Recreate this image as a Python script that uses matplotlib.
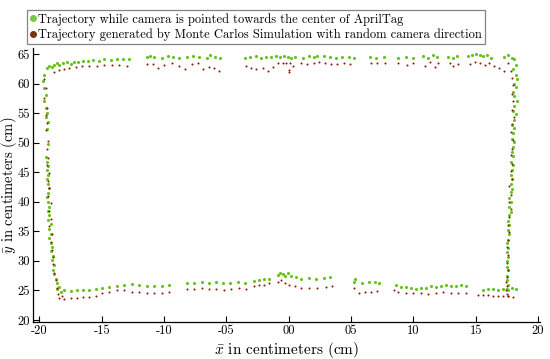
import matplotlib
matplotlib.use("Agg")
import matplotlib.pyplot as plt
from matplotlib.lines import Line2D

plt.rcParams['font.family'] = ['cmr10', 'DejaVu Serif']
plt.rcParams['mathtext.fontset'] = 'cm'
plt.rcParams['axes.unicode_minus'] = False

# ---------------- data ----------------
legend_labels = [
    "Trajectory while camera is pointed towards the center of AprilTag",
    "Trajectory generated by Monte Carlos Simulation with random camera direction",
]
x_ticks = [-20, -15, -10, -5, 0, 5, 10, 15, 20]
x_tick_labels = ["-20", "-15", "-10", "-05", "00", "05", "10", "15", "20"]
y_ticks = [20, 25, 30, 35, 40, 45, 50, 55, 60, 65]
y_tick_labels = ["20", "25", "30", "35", "40", "45", "50", "55", "60", "65"]

# green: camera pointed towards AprilTag
green_top_x = [-19.4, -19.2, -19.0, -18.8, -18.6, -18.4, -18.1, -17.8, -17.5, -17.2, -16.9, -16.5, -16.1, -15.7,
               -15.2, -14.8, -14.3, -13.8, -13.3, -12.8,
               -11.4, -11.1, -10.8, -10.2, -9.7, -9.3, -8.8, -8.2, -7.7, -7.2, -6.6, -6.3, -5.9, -5.5,
               -3.5, -3.1, -2.6, -2.2, -1.8, -1.4, -1.0, -0.7, -0.4, -0.1, 0.2, 0.5,
               1.1, 1.6, 2.0, 2.3, 2.8, 3.3, 3.8, 4.3, 4.8, 5.2,
               6.5, 7.0, 7.6, 8.8, 9.4, 10.0, 10.8, 11.2, 11.6, 11.9, 12.8, 13.2, 13.5,
               14.4, 14.7, 15.0, 15.3, 15.6, 15.9, 16.2, 17.3, 17.6, 17.9]
green_top_y = [62.6, 63.0, 62.8, 63.2, 63.4, 63.1, 63.5, 63.6, 63.3, 63.7, 63.6, 63.8, 63.9, 64.0,
               63.9, 64.1, 64.0, 64.2, 64.1, 64.1,
               64.5, 64.6, 64.5, 64.4, 64.6, 64.5, 64.4, 64.5, 64.7, 64.5, 64.4, 64.8, 64.5, 64.4,
               64.4, 64.5, 64.6, 64.4, 64.5, 64.5, 64.6, 64.5, 64.6, 64.5, 64.4, 64.5,
               64.4, 64.6, 64.5, 64.7, 64.6, 64.5, 64.4, 64.5, 64.5, 64.4,
               64.5, 64.4, 64.5, 64.4, 64.5, 64.4, 64.6, 64.3, 64.8, 64.5, 64.5, 64.4, 64.6,
               64.7, 64.9, 65.0, 64.8, 64.6, 64.9, 64.4, 64.5, 64.8, 64.4]

green_right_x = [18.1, 18.2, 18.0, 18.2, 18.3, 18.1, 18.2, 18.0, 18.1, 18.3, 18.1, 18.0, 18.2, 18.1,
                 17.9, 18.1, 18.0, 17.9, 18.1, 18.0, 17.9, 18.0, 17.8, 18.0, 17.9, 17.8, 17.9, 17.8,
                 17.9, 17.8, 17.7, 17.8, 17.7, 17.8, 17.7, 17.6, 17.7, 17.6, 17.7, 17.6, 17.5, 17.6,
                 17.5, 17.6, 17.5, 17.5, 17.6, 17.5, 17.5, 17.6, 17.5]
green_right_y = [64.1, 63.2, 62.5, 61.5, 60.8, 60.0, 59.4, 58.5, 57.9, 57.1, 56.2, 55.4, 54.8, 53.9,
                 53.0, 52.5, 51.6, 50.7, 50.1, 49.3, 48.4, 47.8, 46.8, 46.2, 45.3, 44.5, 43.9, 43.0,
                 42.2, 41.6, 40.6, 39.9, 39.2, 38.3, 37.7, 36.8, 36.1, 35.2, 34.6, 33.6, 33.0, 32.1,
                 31.5, 30.6, 29.9, 29.0, 28.4, 27.4, 26.8, 25.9, 25.3]

green_bottom_x = [18.2, 17.9, 17.6, 17.2, 16.8, 16.4, 16.0, 15.6,
                  14.2, 13.8, 13.4, 13.0, 12.6, 12.2, 11.8, 11.4, 11.0, 10.6, 10.2, 9.8, 9.4, 9.0, 8.6,
                  5.2, 5.3, 5.9, 6.4, 6.9, 7.2,
                  0.6, 1.0, 1.6, 2.2, 2.8, 3.3,
                  -0.9, -0.7, -0.5, -0.3, -0.1, 0.2,
                  -2.8, -2.4, -2.0, -1.6,
                  -8.2, -7.6, -7.0, -6.4, -5.8, -5.3, -4.7, -4.1, -3.5,
                  -15.0, -14.4, -13.8, -13.2, -12.6, -12.0, -11.4, -10.8, -10.2, -9.6,
                  -17.5, -17.0, -16.5, -16.0, -15.5,
                  -18.6, -18.3, -18.0]
green_bottom_y = [25.3, 25.5, 25.0, 25.2, 25.1, 25.3, 25.2, 25.1,
                  25.8, 25.9, 25.7, 25.8, 26.0, 25.8, 25.6, 25.7, 25.5, 25.4, 25.3, 25.5, 25.6, 25.6, 26.0,
                  26.4, 26.9, 26.3, 26.4, 26.5, 26.3,
                  27.3, 27.0, 27.1, 27.0, 27.1, 27.2,
                  27.6, 28.0, 27.8, 27.5, 27.9, 27.4,
                  26.6, 26.8, 26.9, 27.0,
                  26.2, 26.3, 26.4, 26.3, 26.5, 26.2, 26.3, 26.4, 26.3,
                  25.5, 25.6, 25.8, 26.0, 26.1, 25.9, 25.8, 25.7, 25.8, 25.9,
                  24.9, 25.0, 25.1, 25.0, 25.2,
                  25.2, 24.8, 25.0]

green_left_x = [-18.4, -18.6, -18.7, -18.8, -18.9, -18.8, -19.0, -18.9, -19.1, -19.0, -19.1, -19.2,
                -19.1, -19.2, -19.1, -19.3, -19.2, -19.3, -19.2, -19.3, -19.4, -19.3, -19.2, -19.3,
                -19.4, -19.3, -19.4, -19.3, -19.4, -19.5, -19.3, -19.4, -19.3, -19.5, -19.4, -19.5,
                -19.6, -19.5, -19.6, -19.7, -19.6]
green_left_y = [25.6, 26.3, 27.0, 27.8, 28.5, 29.3, 30.1, 30.8, 31.6, 32.4, 33.1, 33.9,
                34.6, 35.4, 36.2, 36.9, 37.7, 38.5, 39.2, 40.0, 40.8, 41.5, 42.3, 43.0,
                43.8, 44.5, 45.3, 46.1, 46.8, 47.6, 49.7, 52.3, 53.5, 54.3, 55.1, 55.9,
                57.0, 58.0, 59.3, 60.4, 61.5]

# red: Monte Carlo simulation
red_top_x = [-18.8, -18.4, -18.0, -17.6, -17.1, -16.6, -16.0, -15.4, -14.8, -14.2, -13.6, -13.0,
             -11.4, -10.9, -10.5, -10.0, -9.4, -8.8, -8.3, -7.8, -7.3, -6.9, -6.4, -6.0, -5.6,
             -3.4, -3.0, -2.6, -2.1, -1.7, -1.3, -0.9, -0.5, -0.2, 0.1, 0.3, 0.0, 0.0,
             1.0, 1.5, 2.0, 2.4, 2.9, 3.4, 3.9, 4.4, 4.9,
             6.6, 7.1, 7.7, 8.8, 9.5, 10.0, 10.9, 11.3, 11.7, 12.0, 12.9, 13.2, 13.6,
             14.5, 14.9, 15.3, 15.7, 16.1, 16.5, 16.9, 17.3]
red_top_y = [62.0, 62.3, 62.5, 62.6, 62.8, 62.9, 63.0, 63.0, 63.1, 63.2, 63.1, 63.0,
             63.3, 63.3, 62.6, 63.2, 63.5, 63.0, 62.5, 63.3, 63.5, 62.4, 62.8, 62.6, 62.1,
             62.9, 62.7, 62.4, 62.6, 62.2, 62.8, 63.4, 63.4, 63.4, 63.4, 62.9, 62.3, 62.0,
             63.4, 63.3, 63.5, 63.6, 63.5, 63.3, 63.3, 63.4, 63.3,
             63.4, 63.5, 63.5, 63.4, 63.2, 63.5, 63.0, 63.6, 62.8, 63.4, 63.4, 63.0, 63.3,
             63.3, 63.6, 63.4, 63.1, 63.5, 62.9, 62.6, 62.2]

red_right_x = [17.6, 17.8, 17.9, 18.0, 17.9, 18.0, 17.9, 18.1, 17.9, 17.8, 18.0, 17.9, 17.8, 17.9,
               17.8, 17.9, 17.7, 17.8, 17.7, 17.8, 17.7, 17.6, 17.7, 17.6, 17.5, 17.6, 17.5, 17.6,
               17.5, 17.4, 17.5, 17.4, 17.5, 17.6]
red_right_y = [63.4, 62.2, 61.0, 59.7, 58.2, 57.0, 55.6, 54.4, 53.1, 51.8, 50.5, 49.0, 47.9, 46.4,
               45.2, 43.8, 42.6, 41.2, 40.0, 38.7, 37.4, 36.0, 34.9, 33.5, 32.3, 31.0, 29.7, 28.5,
               27.3, 26.5, 25.8, 25.0, 24.4, 24.0]

red_bottom_x = [18.0, 17.6, 17.2, 16.8, 16.4, 16.0, 15.6, 15.2,
                14.2, 13.6, 13.0, 12.4, 11.8, 11.2, 10.6, 10.0, 9.4, 8.8, 8.4,
                5.2, 5.6, 6.1, 6.6, 7.1,
                0.0, 0.5, 1.0, 1.6, 2.3, 3.0, 3.5,
                -0.9, -0.6, -0.3,
                -2.8, -2.4, -2.0, -1.6,
                -8.2, -7.6, -7.0, -6.4, -5.8, -5.2, -4.6, -4.0, -3.4,
                -15.0, -14.4, -13.8, -13.2, -12.6, -12.0, -11.4, -10.8, -10.2, -9.6,
                -17.5, -17.0, -16.5, -16.0, -15.5,
                -18.4, -18.2, -18.0]
red_bottom_y = [23.9, 24.0, 24.1, 24.0, 24.1, 24.2, 24.2, 24.3,
                24.6, 24.5, 24.6, 24.7, 24.5, 24.4, 24.5, 24.5, 24.6, 24.7, 25.0,
                25.5, 24.6, 24.7, 24.8, 24.9,
                26.0, 25.7, 25.5, 25.4, 25.5, 25.6, 25.8,
                26.5, 26.8, 26.3,
                25.8, 25.9, 26.0, 26.2,
                25.3, 25.2, 25.4, 25.2, 25.3, 25.1, 25.2, 25.4, 25.3,
                24.6, 24.8, 25.0, 25.1, 24.8, 24.7, 24.6, 24.5, 24.6, 24.7,
                23.7, 23.8, 23.9, 23.9, 24.0,
                23.8, 24.0, 23.5]

red_left_x = [-18.5, -18.6, -18.7, -18.8, -18.9, -18.9, -19.0, -19.1, -19.0, -19.2, -19.1, -19.2,
              -19.1, -19.3, -19.2, -19.3, -19.2, -19.4, -19.3, -19.4, -19.3, -19.5, -19.4, -19.5,
              -19.4, -19.6, -19.5, -19.6]
red_left_y = [24.4, 25.5, 26.8, 28.0, 29.4, 30.6, 31.9, 33.2, 34.5, 35.9, 37.1, 38.4,
              39.8, 41.0, 42.3, 43.6, 44.9, 46.2, 47.4, 49.0, 50.3, 52.1, 53.4, 54.6,
              55.8, 57.5, 59.2, 60.8]

green_x = green_top_x + green_right_x + green_bottom_x + green_left_x
green_y = green_top_y + green_right_y + green_bottom_y + green_left_y
red_x = red_top_x + red_right_x + red_bottom_x + red_left_x
red_y = red_top_y + red_right_y + red_bottom_y + red_left_y

green_color = '#66c21c'
red_color = '#8b1e0a'

fig = plt.figure(figsize=(5.5, 3.59), dpi=100)
ax = fig.add_axes([0.06, 0.103, 0.922, 0.763])

ax.scatter(green_x, green_y, s=5, color=green_color, linewidths=0, zorder=2)
ax.scatter(red_x, red_y, s=2.2, color=red_color, linewidths=0, zorder=3)

ax.set_xlim(-20.52, 20.16)
ax.set_ylim(19.66, 66.0)
ax.set_xticks(x_ticks)
ax.set_xticklabels(x_tick_labels)
ax.set_yticks(y_ticks)
ax.set_yticklabels(y_tick_labels)
ax.tick_params(direction='in', length=4, width=0.8, labelsize=9, pad=2)
for s in ['top', 'right']:
    ax.spines[s].set_visible(False)
for s in ['left', 'bottom']:
    ax.spines[s].set_linewidth(0.9)

ax.set_xlabel(r'$\bar{x}$ in centimeters (cm)', fontsize=11, labelpad=2)
ax.set_ylabel(r'$\bar{y}$ in centimeters (cm)', fontsize=10.5)
ax.yaxis.set_label_coords(-0.028, 0.5)

handles = [Line2D([], [], linestyle='none', marker='o', markersize=4, color='#7ac943'),
           Line2D([], [], linestyle='none', marker='o', markersize=4, color='#7a3210')]
leg = fig.legend(handles, legend_labels, loc='upper left', bbox_to_anchor=(27 / 550, 1 - 10 / 359),
                 fontsize=9, frameon=True, fancybox=False, handlelength=0.5, handletextpad=0.15,
                 borderpad=0.25, labelspacing=0.2, borderaxespad=0)
leg.get_frame().set_edgecolor('#666666')
leg.get_frame().set_linewidth(0.9)

fig.savefig('out.png', dpi=100)
